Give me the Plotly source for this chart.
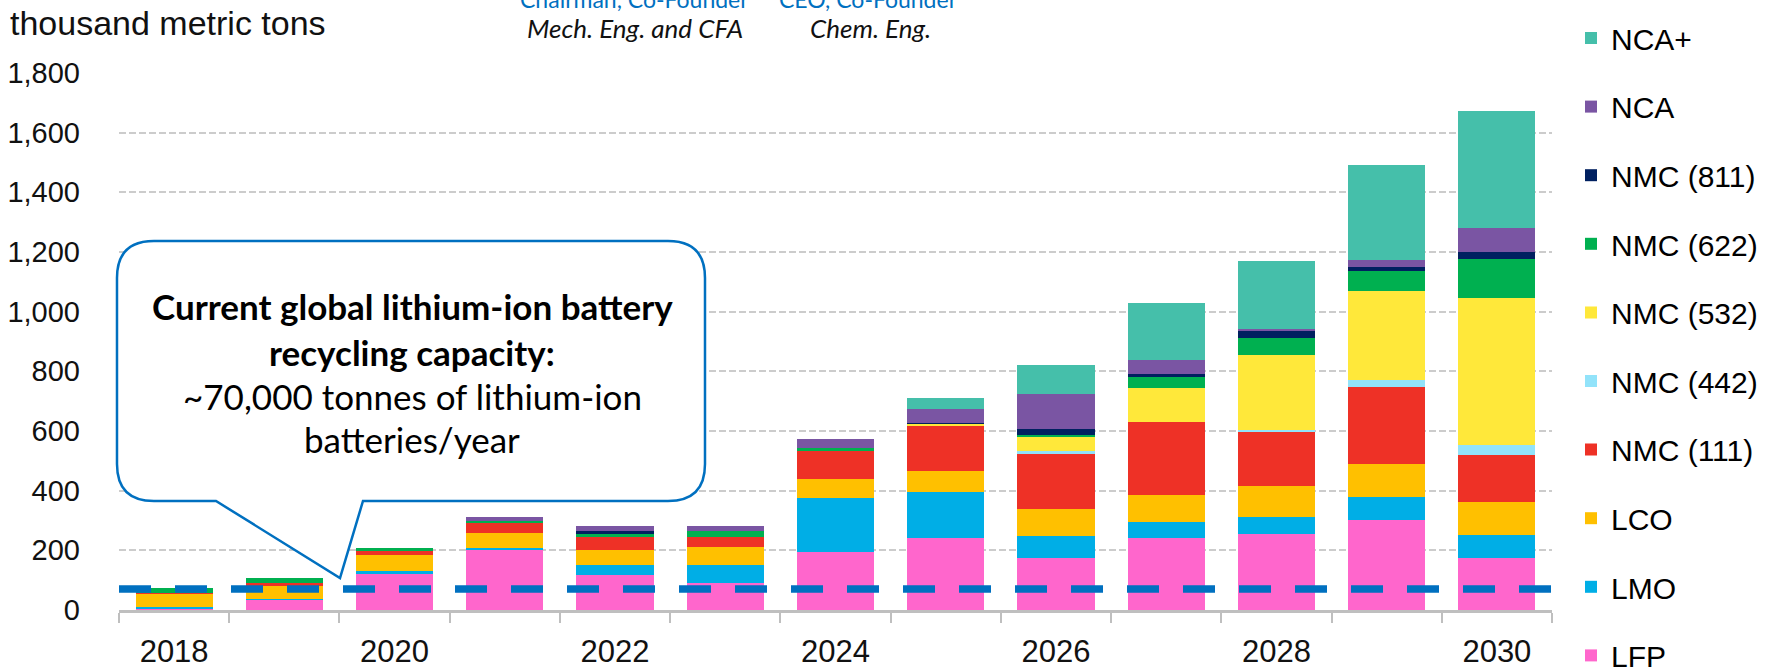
import plotly.graph_objects as go

# ---------------- data (thousand metric tons) ----------------
YEARS = [2018, 2019, 2020, 2021, 2022, 2023, 2024, 2025, 2026, 2027, 2028, 2029, 2030]
TICK_YEARS = [2018, 2020, 2022, 2024, 2026, 2028, 2030]
Y_TICKS = [0, 200, 400, 600, 800, 1000, 1200, 1400, 1600, 1800]

LFP      = [5, 34, 120, 200, 118, 92, 195, 240, 173, 240, 254, 301, 174]
LMO      = [4, 2, 12, 7, 32, 58, 182, 156, 76, 54, 59, 77, 76]
LCO      = [47, 46, 54, 52, 50, 60, 63, 71, 89, 90, 102, 110, 111]
NMC_111  = [2, 10, 12, 32, 46, 36, 94, 149, 186, 247, 182, 259, 157]
NMC_442  = [0, 0, 0, 0, 0, 0, 0, 0, 9, 0, 6, 25, 35]
NMC_532  = [0, 0, 0, 0, 0, 0, 0, 8, 48, 112, 253, 297, 494]
NMC_622  = [16, 16, 10, 7, 8, 20, 9, 0, 4, 37, 57, 67, 129]
NMC_811  = [0, 0, 0, 0, 10, 0, 0, 2, 22, 10, 25, 13, 25]
NCA      = [0, 0, 0, 13, 17, 16, 30, 47, 117, 47, 3, 24, 78]
NCA_PLUS = [0, 0, 0, 0, 0, 0, 0, 38, 98, 192, 228, 320, 395]

RECYCLING_CAPACITY = 70  # thousand tonnes / year

SERIES_NAMES = ["LFP", "LMO", "LCO", "NMC (111)", "NMC (442)", "NMC (532)",
                "NMC (622)", "NMC (811)", "NCA", "NCA+"]
SERIES_VALUES = [LFP, LMO, LCO, NMC_111, NMC_442, NMC_532, NMC_622, NMC_811, NCA, NCA_PLUS]

COLORS = {
    "LFP": "#FF66CC", "LMO": "#00AEE6", "LCO": "#FFC000", "NMC (111)": "#EE3126",
    "NMC (442)": "#92E3FA", "NMC (532)": "#FFE83A", "NMC (622)": "#00B050",
    "NMC (811)": "#002060", "NCA": "#7A55A3", "NCA+": "#45BFAA",
}

# ---------------- layout geometry ----------------
W, H = 1773, 670
ML, MR, MT, MB = 119, 221, 73, 60
PW, PH = W - ML - MR, H - MT - MB


def px(x):
    return (x - ML) / PW


def py(y):
    return (H - MB - y) / PH


fig = go.Figure()

TOP_LEGEND = ["NCA+", "NCA", "NMC (811)", "NMC (622)"]
order = list(reversed(SERIES_NAMES))  # display order top->bottom

for name, vals in zip(SERIES_NAMES, SERIES_VALUES):
    fig.add_trace(go.Bar(
        x=YEARS, y=vals, name=name,
        marker=dict(color=COLORS[name], line=dict(width=0)),
        legend="legend" if name in TOP_LEGEND else "legend2",
        legendgroup=name,
        legendrank=order.index(name) + 1,
        hoverinfo="x+y+name",
    ))

fig.add_trace(go.Scatter(
    x=[YEARS[0] - 0.5, YEARS[-1] + 0.5],
    y=[RECYCLING_CAPACITY, RECYCLING_CAPACITY],
    mode="lines", showlegend=False,
    line=dict(color="#0070C0", width=7.5, dash="32px,24px"),
    hoverinfo="skip",
))

# ---------------- callout box ----------------
L, R, T, B, r = 117, 705, 241, 501, 37
tail_l, tail_r, tip_x, tip_y = 216, 363, 340, 578


def P(x, y):
    return f"{px(x):.5f},{py(y):.5f}"


path = (
    f"M{P(L + r, T)} L{P(R - r, T)} Q{P(R, T)} {P(R, T + r)} "
    f"L{P(R, B - r)} Q{P(R, B)} {P(R - r, B)} "
    f"L{P(tail_r, B)} L{P(tip_x, tip_y)} L{P(tail_l, B)} "
    f"L{P(L + r, B)} Q{P(L, B)} {P(L, B - r)} "
    f"L{P(L, T + r)} Q{P(L, T)} {P(L + r, T)} Z"
)
fig.add_shape(type="path", path=path, xref="paper", yref="paper",
              line=dict(color="#0070C0", width=2.5), fillcolor="white", layer="above")

CALLOUT_FONT = "Lato, Calibri, Carlito, sans-serif"
cx = 412
callout_lines = [
    ("<b>Current global lithium-ion battery</b>", 306),
    ("<b>recycling capacity:</b>", 352),
    ("~70,000 tonnes of lithium-ion", 396),
    ("batteries/year", 439),
]
annotations = []
for txt, yy in callout_lines:
    annotations.append(dict(
        text=txt, x=px(cx), y=py(yy), xref="paper", yref="paper",
        xanchor="center", yanchor="middle", showarrow=False,
        font=dict(family=CALLOUT_FONT, size=35, color="#000000"),
    ))

# top texts
annotations.append(dict(
    text="thousand metric tons", x=px(8), y=py(23), xref="paper", yref="paper",
    xanchor="left", yanchor="middle", showarrow=False,
    font=dict(family="Liberation Sans, Arial, sans-serif", size=34, color="#111111"),
))
for txt, xx in [("Chairman, Co-Founder", 634), ("CEO, Co-Founder", 868)]:
    annotations.append(dict(
        text=txt, x=px(xx), y=py(-1), xref="paper", yref="paper",
        xanchor="center", yanchor="middle", showarrow=False,
        font=dict(family=CALLOUT_FONT, size=23, color="#0070C0"),
    ))
for txt, xx in [("<i>Mech. Eng. and CFA</i>", 635), ("<i>Chem. Eng.</i>", 870)]:
    annotations.append(dict(
        text=txt, x=px(xx), y=py(28), xref="paper", yref="paper",
        xanchor="center", yanchor="middle", showarrow=False,
        font=dict(family=CALLOUT_FONT, size=26, color="#111111"),
    ))

LEG_FONT = dict(family="Liberation Sans, Arial, sans-serif", size=30, color="#000000")
first_center = 38
spacing = 68.6
leg_top1 = first_center - 26
leg_top2 = first_center + len(TOP_LEGEND) * spacing - 26

fig.update_layout(
    width=W, height=H,
    margin=dict(l=ML, r=MR, t=MT, b=MB, autoexpand=False),
    paper_bgcolor="white", plot_bgcolor="white",
    barmode="stack", bargap=0.3,
    showlegend=True,
    legend=dict(x=px(1571), y=py(leg_top1), xanchor="left", yanchor="top",
                traceorder="grouped", tracegroupgap=spacing - 42,
                font=LEG_FONT, bgcolor="rgba(0,0,0,0)", borderwidth=0),
    legend2=dict(x=px(1571), y=py(leg_top2), xanchor="left", yanchor="top",
                 traceorder="grouped", tracegroupgap=spacing - 42,
                 font=LEG_FONT, bgcolor="rgba(0,0,0,0)", borderwidth=0),
    xaxis=dict(
        type="linear", range=[YEARS[0] - 0.5, YEARS[-1] + 0.5],
        tickmode="array", tickvals=TICK_YEARS, ticktext=[str(t) for t in TICK_YEARS],
        ticks="", showgrid=False, zeroline=False,
        showline=True, linecolor="#BFBFBF", linewidth=3,
        tickfont=dict(family="Liberation Sans, Arial, sans-serif", size=31, color="#111111"),
        ticklabelstandoff=12,
        minor=dict(tick0=YEARS[0] - 0.5, dtick=1, ticks="outside", ticklen=10,
                   tickwidth=2, tickcolor="#BFBFBF", showgrid=False),
        fixedrange=True,
    ),
    yaxis=dict(
        range=[Y_TICKS[0], Y_TICKS[-1]], tickmode="array", tickvals=Y_TICKS,
        tickformat=",", ticks="", showline=False, zeroline=False,
        showgrid=True, gridcolor="#CCCCCC", gridwidth=2, griddash="7px,3px",
        tickfont=dict(family="Liberation Sans, Arial, sans-serif", size=29, color="#111111"),
        ticklabelstandoff=38, fixedrange=True,
    ),
    annotations=annotations,
)

fig.write_html(
    "out.html",
    config={"displayModeBar": False},
    post_script="document.body.style.margin='0px';document.body.style.overflow='hidden';",
)
